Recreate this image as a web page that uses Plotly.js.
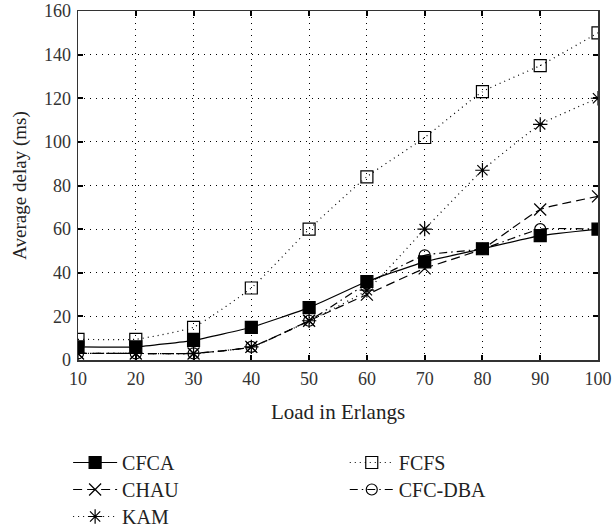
<!DOCTYPE html>
<html>
<head>
<meta charset="utf-8">
<script src="https://cdn.plot.ly/plotly-3.0.1.min.js"></script>
<style>html,body{margin:0;padding:0;background:#fff;overflow:hidden;}</style>
</head>
<body>
<div id="chart" style="width:614px;height:560px;"></div>
<script>
const load = [10, 20, 30, 40, 50, 60, 70, 80, 90, 100];
const cfca   = [6, 6, 9, 15, 24, 36, 45, 51, 57, 60];
const chau   = [3, 3, 3, 6, 18, 30, 42, 51, 69, 75];
const kam    = [3, 3, 3, 6, 18, 32, 60, 87, 108, 120];
const fcfs   = [9.5, 9.5, 15, 33, 60, 84, 102, 123, 135, 150];
const cfcdba = [3, 3, 3, 6, 18, 35, 48, 51, 60, 60];
const xTicks = [10, 20, 30, 40, 50, 60, 70, 80, 90, 100];
const yTicks = [0, 20, 40, 60, 80, 100, 120, 140, 160];

const font = "Liberation Serif, DejaVu Serif, serif";
function tr(name, y, dash, symbol, legend, size) {
  return {
    x: load, y: y, name: name, type: 'scatter', mode: 'lines+markers',
    line: {color: '#000', width: 1.2, dash: dash, shape: 'spline', smoothing: 0.4},
    marker: {symbol: symbol, size: size || 11, color: '#000', line: {color: '#000', width: 1.2}},
    legend: legend
  };
}
const data = [
  tr('FCFS', fcfs, '1px,4px', 'square-open', 'legend2', 12),
  tr('KAM', kam, '1px,4px', 'asterisk-open', 'legend5', 12),
  tr('CFC-DBA', cfcdba, '8px,4px,1.5px,4px', 'circle-open', 'legend4', 11),
  tr('CHAU', chau, '9px,5px', 'x-thin-open', 'legend3', 12),
  tr('CFCA', cfca, 'solid', 'square', 'legend', 12)
];
const legendCommon = {
  orientation: 'v', bgcolor: 'rgba(0,0,0,0)', borderwidth: 0,
  font: {family: font, size: 20, color: '#222'},
  xanchor: 'left', yanchor: 'top', tracegroupgap: 0, itemwidth: 44
};
const col1 = -0.019, col2 = 0.513;
const row1 = -0.2378, row2 = -0.3152, row3 = -0.3926;
const layout = {
  width: 614, height: 560,
  margin: {l: 78, r: 16, t: 11, b: 200},
  paper_bgcolor: '#fff', plot_bgcolor: '#fff',
  font: {family: font, size: 17, color: '#222'},
  showlegend: true,
  legend: Object.assign({}, legendCommon, {x: col1, y: row1}),
  legend2: Object.assign({}, legendCommon, {x: col2, y: row1}),
  legend3: Object.assign({}, legendCommon, {x: col1, y: row2}),
  legend4: Object.assign({}, legendCommon, {x: col2, y: row2}),
  legend5: Object.assign({}, legendCommon, {x: col1, y: row3}),
  xaxis: {
    range: [10, 100], tickvals: xTicks, ticktext: xTicks.map(String),
    ticks: 'inside', ticklen: 5, tickwidth: 2, tickcolor: '#000',
    showline: true, linecolor: '#333', linewidth: 1.5, mirror: 'ticks',
    showgrid: true, gridcolor: '#000', griddash: '1px,5px', gridwidth: 1,
    zeroline: false, ticklabelstandoff: 2,
    tickfont: {family: font, size: 18, color: '#333'},
    title: {text: 'Load in Erlangs', font: {family: font, size: 21, color: '#222'}, standoff: 16}
  },
  yaxis: {
    range: [0, 160], tickvals: yTicks, ticktext: yTicks.map(String),
    ticks: 'inside', ticklen: 5, tickwidth: 2, tickcolor: '#000',
    showline: true, linecolor: '#333', linewidth: 1.5, mirror: 'ticks',
    showgrid: true, gridcolor: '#000', griddash: '1px,5px', gridwidth: 1,
    zeroline: false, ticklabelstandoff: 2,
    tickfont: {family: font, size: 18, color: '#333'},
    title: {text: 'Average delay (ms)', font: {family: font, size: 19, color: '#222'}, standoff: 12}
  }
};
Plotly.newPlot('chart', data, layout, {displayModeBar: false, staticPlot: true});
</script>
</body>
</html>
